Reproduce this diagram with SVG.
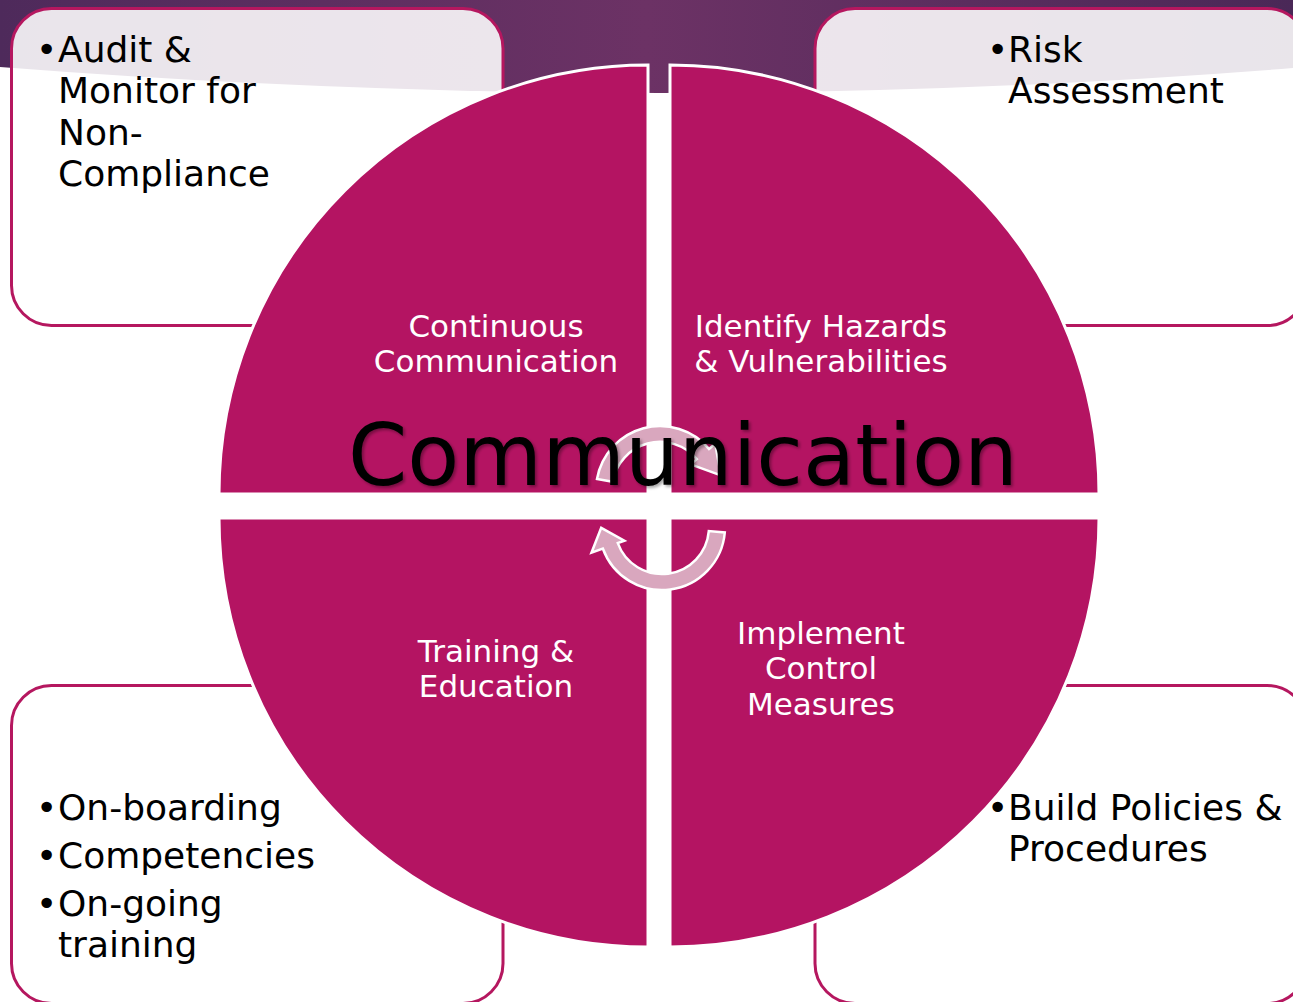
<svg xmlns="http://www.w3.org/2000/svg" width="1293" height="1002" viewBox="0 0 1293 1002">
<defs>
<linearGradient id="bandGrad" x1="0" y1="0" x2="1" y2="0">
<stop offset="0" stop-color="#4e2a5b"/>
<stop offset="0.5" stop-color="#6c3265"/>
<stop offset="1" stop-color="#4a2857"/>
</linearGradient>
<filter id="shadow" x="-5%" y="-20%" width="110%" height="140%">
<feDropShadow dx="2" dy="2" stdDeviation="1.5" flood-color="#000" flood-opacity="0.35"/>
</filter>
</defs>
<style>
.box{fill:#ffffff;fill-opacity:0.88;stroke:#b5175f;stroke-width:3}
.quad{fill:#b41462;stroke:#ffffff;stroke-width:3}
.arrow{fill:#d9a7be;stroke:#ffffff;stroke-width:2.5;stroke-linejoin:miter}
.bul{font-family:"DejaVu Sans",sans-serif;font-size:36px;fill:#000}
.lbl{font-family:"DejaVu Sans",sans-serif;font-size:31px;fill:#ffffff;text-anchor:middle}
.big{font-family:"DejaVu Sans",sans-serif;font-size:85px;fill:#000;text-anchor:middle}
</style>
<rect x="0" y="0" width="1293" height="1002" fill="#ffffff"/>
<path d="M0,0 H1293 V68 Q660,118.5 0,67 Z" fill="url(#bandGrad)"/>

<g id="box-audit">
<rect class="box" x="11.5" y="8.5" width="491.5" height="317" rx="40"/>
<text class="bul" x="36" y="62">•</text>
<text class="bul" x="58" y="62">Audit &amp;</text>
<text class="bul" x="58" y="103">Monitor for</text>
<text class="bul" x="58" y="145">Non-</text>
<text class="bul" x="58" y="186">Compliance</text>
</g>
<g id="box-risk">
<rect class="box" x="815" y="8.5" width="492" height="317" rx="40"/>
<text class="bul" x="987" y="62">•</text>
<text class="bul" x="1008" y="62">Risk</text>
<text class="bul" x="1008" y="103">Assessment</text>
</g>
<g id="box-training">
<rect class="box" x="11.5" y="685.5" width="491.5" height="318" rx="40"/>
<text class="bul" x="36" y="820">•</text>
<text class="bul" x="58" y="820">On-boarding</text>
<text class="bul" x="36" y="868">•</text>
<text class="bul" x="58" y="868">Competencies</text>
<text class="bul" x="36" y="916">•</text>
<text class="bul" x="58" y="916">On-going</text>
<text class="bul" x="58" y="957">training</text>
</g>
<g id="box-policies">
<rect class="box" x="815" y="685.5" width="492" height="318" rx="40"/>
<text class="bul" x="987" y="820">•</text>
<text class="bul" x="1008" y="820">Build Policies &amp;</text>
<text class="bul" x="1008" y="861">Procedures</text>
</g>

<g id="quad-continuous">
<path class="quad" d="M648,494 L219,494 A429,429 0 0 1 648,65 Z"/>
<text class="lbl" x="496" y="337">Continuous</text>
<text class="lbl" x="496" y="372">Communication</text>
</g>
<g id="quad-identify">
<path class="quad" d="M670,494 L670,65 A429,429 0 0 1 1099,494 Z"/>
<text class="lbl" x="821" y="337">Identify Hazards</text>
<text class="lbl" x="821" y="372">&amp; Vulnerabilities</text>
</g>
<g id="quad-training">
<path class="quad" d="M648,518 L648,947 A429,429 0 0 1 219,518 Z"/>
<text class="lbl" x="496" y="662">Training &amp;</text>
<text class="lbl" x="496" y="697">Education</text>
</g>
<g id="quad-implement">
<path class="quad" d="M670,518 L1099,518 A429,429 0 0 1 670,947 Z"/>
<text class="lbl" x="821" y="644">Implement</text>
<text class="lbl" x="821" y="679">Control</text>
<text class="lbl" x="821" y="715">Measures</text>
</g>

<g id="connectors">
<path class="arrow" d="M597,478.9 A64,64 0 0 1 709,448.9 L715.2,443.7 L720.9,475.4 L690.6,464.3 L696.8,459.1 A48,48 0 0 0 612.7,481.7 Z"/>
<path class="arrow" d="M724.8,532.5 A63,63 0 0 1 602.8,548.5 L591.5,552.7 L601.2,527.9 L624.4,540.7 L617.8,543.1 A47,47 0 0 0 708.8,531.1 Z"/>
</g>

<g id="title">
<text class="big" x="683" y="485" filter="url(#shadow)">Communication</text>
</g>
</svg>
